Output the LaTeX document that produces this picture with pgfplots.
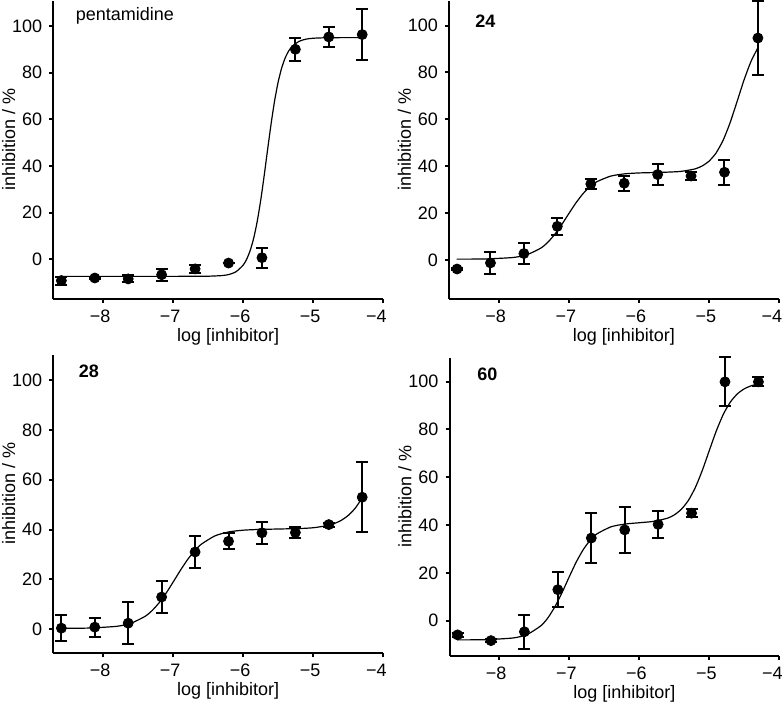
\documentclass[border=0pt]{standalone}
\usepackage{pgfplots}
\pgfplotsset{compat=1.18}
\usepackage{pgfplotstable}
\usepackage{fontspec}
\setmainfont{Liberation Sans}

% measured points: x, y, error
\pgfplotstableread{
x y e
-8.595 -9.1 1.7
-8.118 -8.0 0.6
-7.641 -8.4 1.5
-7.164 -6.6 2.6
-6.686 -4.1 1.7
-6.209 -1.6 0.0
-5.732 0.7 4.3
-5.255 90.0 5.0
-4.778 95.3 4.2
-4.301 96.3 10.8
}\pentdata
\pgfplotstableread{
x y e
-8.595 -3.9 0.5
-8.118 -1.3 4.6
-7.641 2.7 4.5
-7.164 14.3 3.7
-6.686 32.4 2.0
-6.209 32.7 3.1
-5.732 36.4 4.6
-5.255 35.8 1.8
-4.778 37.4 5.3
-4.301 94.7 15.6
}\cmpa
\pgfplotstableread{
x y e
-8.595 0.4 5.1
-8.118 0.8 3.8
-7.641 2.4 8.5
-7.164 12.9 6.4
-6.686 31.0 6.4
-6.209 35.3 3.3
-5.732 38.7 4.3
-5.255 38.8 2.3
-4.778 42.0 0.8
-4.301 53.0 14.1
}\cmpb
\pgfplotstableread{
x y e
-8.595 -5.9 0.8
-8.118 -8.3 0.6
-7.641 -4.6 7.1
-7.164 13.0 7.2
-6.686 34.6 10.5
-6.209 38.0 9.7
-5.732 40.3 5.8
-5.255 45.0 1.8
-4.778 99.9 10.3
-4.301 99.9 1.9
}\cmpc

\pgfplotsset{
 panel/.style={
  scale only axis, width=165pt, height=149pt,
  xmin=-8.71, xmax=-4,
  axis x line*=bottom, axis y line*=left,
  axis line style={line width=1pt, black},
  tick align=outside, major tick length=2pt,
  tick style={line width=1pt, black},
  xtick={-8,-7,-6,-5,-4},
  xticklabels={−8,−7,−6,−5,\hspace*{-4pt}−4},
  xticklabel style={xshift=-1.5pt},
  ytick={0,20,40,60,80,100}, yticklabels={0,20,40,60,80,100},
  ticklabel style={font=\fontsize{9}{10}\selectfont},
  xlabel={log [inhibitor]}, ylabel={inhibition / \%},
  label style={font=\fontsize{9}{10}\selectfont},
  xlabel style={at={(axis description cs:0.53,-0.127)}, anchor=center},
  ylabel style={at={(axis description cs:-0.135,0.535)}, anchor=center},
  clip=false,
 },
 pts/.style={only marks, mark=*, black, mark size=2.5pt,
  mark options={fill=black, draw=black},
  error bars/.cd, y dir=both, y explicit,
  error bar style={line width=1pt, black},
  error mark options={rotate=90, mark size=3pt, line width=1pt, black}},
 fit/.style={black, line width=0.6pt, no marks, smooth, tension=0.4},
}
\tikzset{ttl/.style={anchor=west, inner sep=0pt, font=\fontsize{9}{10}\selectfont}}

\begin{document}
\begin{tikzpicture}
\useasboundingbox (0,0) rectangle (391.5pt,353pt);

% pentamidine
\begin{axis}[panel, at={(26.65pt,203.5pt)}, anchor=south west, ymin=-17, ymax=110.7]
\addplot[fit] coordinates {(-8.6,-7.3) (-8.0,-7.3) (-7.5,-7.3) (-7.0,-7.3) (-6.7,-7.28) (-6.5,-7.24) (-6.3,-6.96) (-6.2,-6.47) (-6.1,-5.28) (-6.0,-2.49) (-5.95,0.04) (-5.9,3.76) (-5.85,9.02) (-5.8,16.16) (-5.75,25.23) (-5.7,35.88) (-5.65,47.3) (-5.6,58.36) (-5.55,68.14) (-5.5,76.06) (-5.45,82.04) (-5.4,86.33) (-5.35,89.29) (-5.3,91.28) (-5.2,93.45) (-5.1,94.36) (-5.0,94.74) (-4.8,94.96) (-4.5,95.0) (-4.3,95.0)};
\addplot[pts] table[x=x, y=y, y error=e] {\pentdata};
\node[ttl] at (axis description cs:0.067,0.95) {pentamidine};
\end{axis}

% 24
\begin{axis}[panel, at={(224.5pt,203.5pt)}, anchor=south west, ymin=-16.7, ymax=110.5]
\addplot[fit] coordinates {(-8.6,0.31) (-8.2,0.39) (-7.8,1.0) (-7.6,2.16) (-7.4,5.01) (-7.3,7.51) (-7.2,10.9) (-7.1,15.1) (-7.0,19.73) (-6.9,24.25) (-6.8,28.16) (-6.7,31.19) (-6.6,33.36) (-6.4,35.77) (-6.2,36.73) (-6.0,37.1) (-5.8,37.26) (-5.6,37.44) (-5.4,37.76) (-5.2,38.82) (-5.1,40.02) (-5.0,42.09) (-4.9,45.54) (-4.8,50.89) (-4.7,58.36) (-4.6,67.43) (-4.5,76.69) (-4.4,84.67) (-4.3,90.57)};
\addplot[pts] table[x=x, y=y, y error=e] {\cmpa};
\node[ttl, font=\fontsize{9}{10}\selectfont\bfseries] at (axis description cs:0.079,0.933) {24};
\end{axis}

% 28
\begin{axis}[panel, at={(26.65pt,26.35pt)}, anchor=south west, ymin=-9.7, ymax=110]
\addplot[fit] coordinates {(-8.6,0.32) (-8.2,0.44) (-7.8,1.15) (-7.6,2.38) (-7.4,5.14) (-7.3,7.46) (-7.2,10.58) (-7.1,14.45) (-7.0,18.88) (-6.9,23.44) (-6.8,27.68) (-6.7,31.27) (-6.6,34.06) (-6.4,37.5) (-6.2,39.08) (-6.0,39.75) (-5.8,40.02) (-5.6,40.16) (-5.4,40.28) (-5.2,40.4) (-5.0,40.73) (-4.8,41.58) (-4.7,42.41) (-4.6,43.71) (-4.5,45.69) (-4.4,48.62) (-4.3,52.76)};
\addplot[pts] table[x=x, y=y, y error=e] {\cmpb};
\node[ttl, font=\fontsize{9}{10}\selectfont\bfseries] at (axis description cs:0.076,0.945) {28};
\end{axis}

% 60
\begin{axis}[panel, at={(224.75pt,25.15pt)}, anchor=south west, ymin=-14.6, ymax=110]
\addplot[fit] coordinates {(-8.6,-7.99) (-8.2,-7.9) (-7.8,-7.18) (-7.6,-5.72) (-7.4,-1.95) (-7.3,1.46) (-7.2,6.16) (-7.1,12.01) (-7.0,18.44) (-6.9,24.62) (-6.8,29.81) (-6.7,33.74) (-6.6,36.44) (-6.4,39.34) (-6.2,40.46) (-6.0,40.99) (-5.8,41.55) (-5.6,42.88) (-5.5,44.3) (-5.4,46.65) (-5.3,50.35) (-5.2,55.8) (-5.1,63.02) (-5.0,71.35) (-4.9,79.54) (-4.8,86.43) (-4.7,91.51) (-4.6,94.91) (-4.5,97.03) (-4.4,98.29) (-4.3,99.03)};
\addplot[pts] table[x=x, y=y, y error=e] {\cmpc};
\node[ttl, font=\fontsize{9}{10}\selectfont\bfseries] at (axis description cs:0.083,0.943) {60};
\end{axis}
\end{tikzpicture}
\end{document}
